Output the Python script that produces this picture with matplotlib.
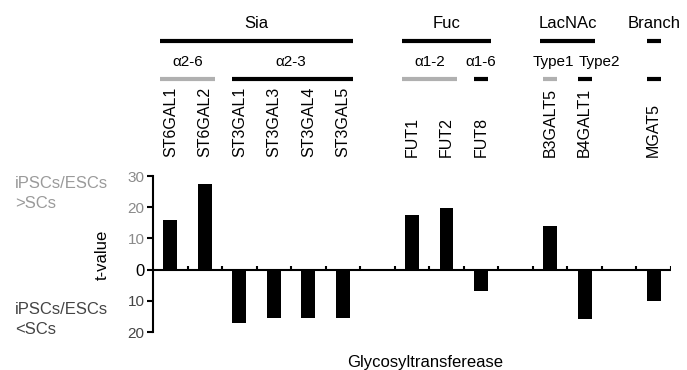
import matplotlib
matplotlib.use("Agg")
import matplotlib.pyplot as plt
import matplotlib.transforms as mtransforms

plt.rcParams['font.family'] = ['Liberation Sans', 'DejaVu Sans']

# ---- data ----
genes = ["ST6GAL1", "ST6GAL2", "ST3GAL1", "ST3GAL3", "ST3GAL4", "ST3GAL5", "",
         "FUT1", "FUT2", "FUT8", "", "B3GALT5", "B4GALT1", "", "MGAT5"]
t_values = [16.0, 27.4, -17.2, -15.4, -15.4, -15.6, None,
            17.5, 19.8, -6.7, None, 14.1, -15.9, None, -10.0]
ytick_vals = [-20, -10, 0, 10, 20, 30]
ytick_labels = ["20", "10", "0", "10", "20", "30"]
# group brackets: (label, first slot, last slot)
groups = [("Sia", 0, 5), ("Fuc", 7, 9), ("LacNAc", 11, 12), ("Branch", 14, 14)]
# sub-group brackets: (label, first slot, last slot, colour)
subgroups = [("α2-6", 0, 1, "#b0b0b0"), ("α2-3", 2, 5, "black"),
             ("α1-2", 7, 8, "#b0b0b0"), ("α1-6", 9, 9, "black"),
             ("Type1", 11, 11, "#b0b0b0"), ("Type2", 12, 12, "black"),
             ("", 14, 14, "black")]

fig = plt.figure(figsize=(6.87, 3.70), dpi=100)
ax = fig.add_axes([153/687, (370-332)/370, (671-153)/687, (332-176)/370])

n = len(genes)
xs = [i + 0.5 for i in range(n) if t_values[i] is not None]
vals = [v for v in t_values if v is not None]
ax.bar(xs, vals, width=0.4, color="black", zorder=3)

ax.set_xlim(0, n)
ax.set_ylim(-20, 30)
ax.axhline(0, color="black", lw=1.5, zorder=4)
for i in range(1, n + 1):
    ax.plot([i, i], [0, 1.2], color="black", lw=1.5, zorder=4, solid_capstyle="butt")

for s in ["top", "right", "bottom"]:
    ax.spines[s].set_visible(False)
ax.spines["left"].set_linewidth(1.5)
ax.set_xticks([])
ax.set_yticks(ytick_vals)
ax.set_yticklabels(ytick_labels, fontsize=11)
ax.tick_params(axis="y", length=4, width=1.5, pad=2)
for lab, v in zip(ax.get_yticklabels(), ytick_vals):
    lab.set_color("black" if v == 0 else ("#8a8a8a" if v > 0 else "#444444"))
    if v == 0:
        lab.set_fontsize(12)

fig.text(102/687, (370-255)/370, "t-value", fontsize=12, rotation=90,
         ha="center", va="center")

fig.text(15/687, (370-183)/370, "iPSCs/ESCs", fontsize=12, color="#9a9a9a", va="center")
fig.text(15/687, (370-203)/370, ">SCs", fontsize=12, color="#9a9a9a", va="center")
fig.text(15/687, (370-310)/370, "iPSCs/ESCs", fontsize=12, color="#444444", va="center")
fig.text(15/687, (370-329)/370, "<SCs", fontsize=12, color="#444444", va="center")

fig.text(347/687, (370-362)/370, "Glycosyltransferease", fontsize=12, va="center")

trans = mtransforms.blended_transform_factory(ax.transData, fig.transFigure)

# gene labels
for i, g in enumerate(genes):
    if g:
        fig.text(i + 0.5, (370-157)/370, g, transform=trans, rotation=90,
                 ha="center", va="bottom", fontsize=11.5)

# group brackets
for lab, a, b in groups:
    x0, x1 = a + 0.5 - 0.3, b + 0.5 + 0.3
    if a == b:
        x0, x1 = a + 0.3, a + 0.7
    fig.add_artist(plt.Line2D([x0, x1], [(370-41)/370]*2, transform=trans,
                              color="black", lw=3, solid_capstyle="butt"))
    fig.text((a + b + 1) / 2, (370-23)/370, lab, transform=trans,
             ha="center", va="center", fontsize=12)

for lab, a, b, col in subgroups:
    if a == b:
        x0, x1 = a + 0.3, a + 0.7
    else:
        x0, x1 = a + 0.5 - 0.3, b + 0.5 + 0.3
    if lab == "α2-3":
        x0 = a + 0.3
    fig.add_artist(plt.Line2D([x0, x1], [(370-79)/370]*2, transform=trans,
                              color=col, lw=3, solid_capstyle="butt"))
    if lab == "Type1":
        fig.text(b + 1.2, (370-62)/370, lab, transform=trans,
                 ha="right", va="center", fontsize=11)
    elif lab == "Type2":
        fig.text(a + 0.32, (370-62)/370, lab, transform=trans,
                 ha="left", va="center", fontsize=11)
    elif lab:
        fig.text((a + b + 1) / 2, (370-62)/370, lab, transform=trans,
                 ha="center", va="center", fontsize=11)

fig.savefig("out.png", dpi=100)
